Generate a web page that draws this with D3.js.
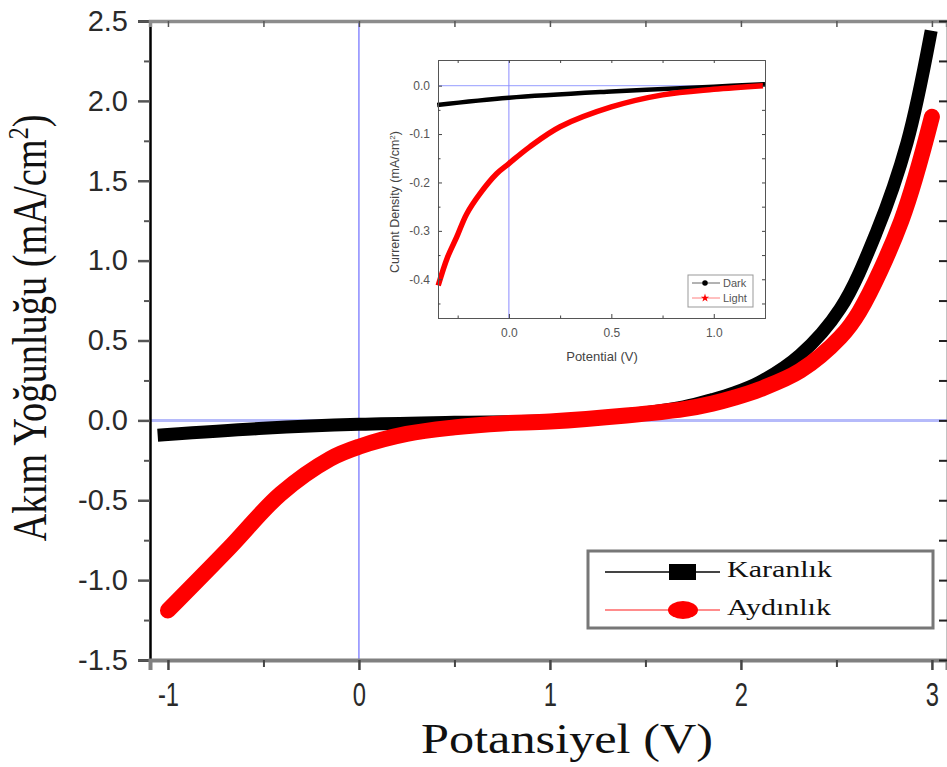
<!DOCTYPE html>
<html>
<head>
<meta charset="utf-8">
<script src="https://cdn.jsdelivr.net/npm/d3@7"></script>
<style>
  body { margin: 0; background: #fff; }
  svg { display: block; }
</style>
</head>
<body>
<div id="chart"></div>
<script>
// main plot: Karanlık (dark) and Aydınlık (light) J-V curves
let darkV = [-1.02, -0.5, 0, 0.5, 1.0, 1.4, 1.7, 1.85, 1.96, 2.10, 2.31, 2.52, 2.71, 2.87, 2.99];
let darkJ = [-0.09, -0.05, -0.025, -0.012, -0.002, 0.035, 0.085, 0.13, 0.17, 0.24, 0.41, 0.70, 1.18, 1.74, 2.40];
let lightV = [-1.0, -0.68, -0.41, -0.15, 0, 0.25, 0.5, 0.75, 1.0, 1.4, 1.7, 1.85, 1.96, 2.10, 2.31, 2.52, 2.62, 2.84, 3.0];
let lightJ = [-1.19, -0.80, -0.46, -0.24, -0.165, -0.085, -0.044, -0.019, -0.0075, 0.03, 0.07, 0.105, 0.14, 0.195, 0.31, 0.52, 0.68, 1.25, 1.90];

// inset: zoom around the origin
let insetDarkV = [-0.35, 0, 0.5, 1.0, 1.25];
let insetDarkJ = [-0.04, -0.025, -0.012, -0.002, 0.003];
let insetLightV = [-0.345, -0.3, -0.255, -0.206, -0.141, -0.06, 0, 0.1, 0.25, 0.5, 0.75, 1.0, 1.24];
let insetLightJ = [-0.413, -0.355, -0.313, -0.265, -0.223, -0.182, -0.161, -0.127, -0.085, -0.044, -0.019, -0.0075, 0.0];

let xTicks = [-1, 0, 1, 2, 3];
let yTicks = [-1.5, -1.0, -0.5, 0.0, 0.5, 1.0, 1.5, 2.0, 2.5];
let insetXTicks = [0, 0.5, 1.0];
let insetYTicks = [0, -0.1, -0.2, -0.3, -0.4];
let seriesNames = ['Karanlık', 'Aydınlık'];
let insetNames = ['Dark', 'Light'];

let width = 947, height = 767;
let plot = { left: 150, right: 947, top: 21, bottom: 660 };
let inset = { left: 438, right: 765, top: 60, bottom: 318 };

const svg = d3.select('#chart').append('svg')
  .attr('width', width)
  .attr('height', height)
  .attr('viewBox', [0, 0, width, height]);

svg.append('rect').attr('width', width).attr('height', height).attr('fill', '#fff');

let x = d3.scaleLinear().domain([-1.094, 3.079]).range([plot.left, plot.right]);
let y = d3.scaleLinear().domain([-1.5, 2.5]).range([plot.bottom, plot.top]);

// plain hyphen instead of d3's unicode minus
let fmt1 = (d) => d.toFixed(1);
let fmt0 = (d) => d.toFixed(0);

function zip(xs, ys) {
  return xs.map((v, i) => ({ v: v, j: ys[i] }));
}

function minorTicks(scale, step) {
  let [a, b] = scale.domain();
  let out = [];
  for (let t = Math.ceil(a / step) * step; t <= b + 1e-9; t += step) out.push(+t.toFixed(4));
  return out;
}

// reference lines
svg.append('line')
  .attr('x1', plot.left).attr('x2', plot.right)
  .attr('y1', y(0)).attr('y2', y(0))
  .attr('stroke', 'rgba(120,130,245,0.55)').attr('stroke-width', 3);
svg.append('line')
  .attr('x1', x(0)).attr('x2', x(0))
  .attr('y1', plot.top).attr('y2', plot.bottom)
  .attr('stroke', '#5050ff').attr('stroke-width', 1);

// curves
let line = d3.line()
  .x((d) => x(d.v))
  .y((d) => y(d.j))
  .curve(d3.curveCatmullRom.alpha(0.5));

svg.append('path')
  .attr('d', line(zip(darkV, darkJ)))
  .attr('fill', 'none')
  .attr('stroke', '#000')
  .attr('stroke-width', 13)
  .attr('stroke-linecap', 'square')
  .attr('stroke-linejoin', 'round');

svg.append('path')
  .attr('d', line(zip(lightV, lightJ)))
  .attr('fill', 'none')
  .attr('stroke', '#ff0000')
  .attr('stroke-width', 16)
  .attr('stroke-linecap', 'round')
  .attr('stroke-linejoin', 'round');

// axes
let tickFont = '"Liberation Sans", Arial, sans-serif';

let axisL = svg.append('g')
  .attr('transform', `translate(${plot.left},0)`)
  .call(d3.axisLeft(y).tickValues(yTicks).tickSize(12).tickPadding(10).tickFormat(fmt1));
axisL.select('.domain').attr('stroke', '#000').attr('stroke-width', 2.5);
axisL.selectAll('.tick line').attr('stroke', '#555').attr('stroke-width', 2.5);
axisL.selectAll('.tick text')
  .attr('font-family', tickFont).attr('font-size', 29).attr('fill', '#2a2a2a');

svg.append('g')
  .attr('transform', `translate(${plot.left},0)`)
  .call(d3.axisLeft(y).tickValues(minorTicks(y, 0.25).filter((t) => !yTicks.includes(t))).tickSize(6).tickFormat(''))
  .call((g) => g.select('.domain').remove())
  .selectAll('.tick line').attr('stroke', '#555').attr('stroke-width', 2);

let axisB = svg.append('g')
  .attr('transform', `translate(0,${plot.bottom})`)
  .call(d3.axisBottom(x).tickValues(xTicks).tickSize(10).tickPadding(13).tickFormat(fmt0));
axisB.select('.domain').attr('stroke', '#808080').attr('stroke-width', 4);
axisB.selectAll('.tick line').attr('stroke', '#444').attr('stroke-width', 2.5);
axisB.selectAll('.tick text')
  .attr('font-family', tickFont)
  .attr('font-size', 33).attr('fill', '#2a2a2a')
  .attr('transform', 'scale(0.72,1)');

svg.append('g')
  .attr('transform', `translate(0,${plot.bottom})`)
  .call(d3.axisBottom(x).tickValues([-0.5, 0.5, 1.5, 2.5]).tickSize(7).tickFormat(''))
  .call((g) => g.select('.domain').remove())
  .selectAll('.tick line').attr('stroke', '#444').attr('stroke-width', 2);

let axisT = svg.append('g')
  .attr('transform', `translate(0,${plot.top})`)
  .call(d3.axisBottom(x).tickValues([-1, -0.5, 0, 0.5, 1, 1.5, 2, 2.5, 3]).tickSize(6).tickFormat(''));
axisT.select('.domain').attr('stroke', '#8c8c8c').attr('stroke-width', 3.5);
axisT.selectAll('.tick line').attr('stroke', '#555').attr('stroke-width', 1.5);

let axisR = svg.append('g')
  .attr('transform', `translate(${plot.right},0)`)
  .call(d3.axisLeft(y).tickValues(minorTicks(y, 0.25)).tickSize(8).tickFormat(''));
axisR.select('.domain').attr('stroke', '#888').attr('stroke-width', 2);
axisR.selectAll('.tick line').attr('stroke', '#222').attr('stroke-width', 2);

// axis titles
let serif = '"Liberation Serif", "Times New Roman", serif';
svg.append('text')
  .attr('transform', 'translate(567,753) scale(1.17,1)')
  .attr('text-anchor', 'middle')
  .attr('font-family', serif).attr('font-size', 43).attr('fill', '#111')
  .text('Potansiyel (V)');

let yTitle = svg.append('text')
  .attr('transform', 'translate(46,328) rotate(-90) scale(0.8,1)')
  .attr('text-anchor', 'middle')
  .attr('font-family', serif).attr('font-size', 48).attr('fill', '#111');
yTitle.append('tspan').text('Akım Yoğunluğu (mA/cm');
yTitle.append('tspan').attr('dy', -18).attr('font-size', 30).text('2');
yTitle.append('tspan').attr('dy', 18).text(')');

// legend
let legend = svg.append('g').attr('class', 'legend');
legend.append('rect')
  .attr('x', 588).attr('y', 551).attr('width', 345).attr('height', 77)
  .attr('fill', '#fff').attr('stroke', '#777').attr('stroke-width', 3);

let legendRows = [
  { name: seriesNames[0], yPos: 572, line: '#444', color: '#000', shape: 'square' },
  { name: seriesNames[1], yPos: 610, line: '#ff8c8c', color: '#ff0000', shape: 'circle' }
];
legendRows.forEach((r) => {
  legend.append('line')
    .attr('x1', 605).attr('x2', 720).attr('y1', r.yPos).attr('y2', r.yPos)
    .attr('stroke', r.line).attr('stroke-width', 1.8);
  if (r.shape === 'square') {
    legend.append('rect')
      .attr('x', 669).attr('y', r.yPos - 8).attr('width', 27).attr('height', 16)
      .attr('fill', r.color);
  } else {
    legend.append('ellipse')
      .attr('cx', 683).attr('cy', r.yPos).attr('rx', 15).attr('ry', 9)
      .attr('fill', r.color);
  }
  legend.append('text')
    .attr('transform', `translate(727,${r.yPos + 5}) scale(1.25,1)`)
    .attr('font-family', serif).attr('font-size', 24).attr('fill', '#111')
    .text(r.name);
});

// inset chart
let xi = d3.scaleLinear().domain([-0.346, 1.25]).range([inset.left, inset.right]);
let yi = d3.scaleLinear().domain([-0.48, 0.053]).range([inset.bottom, inset.top]);

let ins = svg.append('g').attr('class', 'inset');
ins.append('rect')
  .attr('x', inset.left).attr('y', inset.top)
  .attr('width', inset.right - inset.left).attr('height', inset.bottom - inset.top)
  .attr('fill', '#fff');

ins.append('line')
  .attr('x1', inset.left).attr('x2', inset.right).attr('y1', yi(0)).attr('y2', yi(0))
  .attr('stroke', '#aab0ff').attr('stroke-width', 1.2);
ins.append('line')
  .attr('x1', xi(0)).attr('x2', xi(0)).attr('y1', inset.top).attr('y2', inset.bottom)
  .attr('stroke', '#8a8aff').attr('stroke-width', 1);

let lineI = d3.line()
  .x((d) => xi(d.v))
  .y((d) => yi(d.j))
  .curve(d3.curveCatmullRom.alpha(0.5));

ins.append('path')
  .attr('d', lineI(zip(insetDarkV, insetDarkJ)))
  .attr('fill', 'none').attr('stroke', '#000').attr('stroke-width', 4.5);
ins.append('path')
  .attr('d', lineI(zip(insetLightV, insetLightJ)))
  .attr('fill', 'none').attr('stroke', '#ff0000').attr('stroke-width', 5.5);

let smallFont = '"Liberation Sans", Arial, sans-serif';
let insetAxis = (g) => {
  g.select('.domain').attr('stroke', '#555').attr('stroke-width', 1);
  g.selectAll('.tick line').attr('stroke', '#444');
  g.selectAll('.tick text').attr('font-family', smallFont).attr('font-size', 12).attr('fill', '#555');
};

ins.append('g')
  .attr('transform', `translate(${inset.left},0)`)
  .call(d3.axisLeft(yi).tickValues(insetYTicks).tickSize(-4).tickPadding(8).tickFormat(fmt1))
  .call(insetAxis);
ins.append('g')
  .attr('transform', `translate(${inset.left},0)`)
  .call(d3.axisLeft(yi).tickValues([-0.05, -0.15, -0.25, -0.35, -0.45]).tickSize(-2.5).tickFormat(''))
  .call(insetAxis);
ins.append('g')
  .attr('transform', `translate(${inset.right},0)`)
  .call(d3.axisRight(yi).tickValues([0, -0.05, -0.1, -0.15, -0.2, -0.25, -0.3, -0.35, -0.4, -0.45]).tickSize(-3).tickFormat(''))
  .call(insetAxis);
ins.append('g')
  .attr('transform', `translate(0,${inset.bottom})`)
  .call(d3.axisBottom(xi).tickValues(insetXTicks).tickSize(-4).tickPadding(10).tickFormat(fmt1))
  .call(insetAxis);
ins.append('g')
  .attr('transform', `translate(0,${inset.bottom})`)
  .call(d3.axisBottom(xi).tickValues([-0.25, 0.25, 0.75]).tickSize(-2.5).tickFormat(''))
  .call(insetAxis);
ins.append('g')
  .attr('transform', `translate(0,${inset.top})`)
  .call(d3.axisTop(xi).tickValues([-0.25, 0, 0.25, 0.5, 0.75, 1.0]).tickSize(-3).tickFormat(''))
  .call(insetAxis);

ins.append('text')
  .attr('x', 602).attr('y', 361)
  .attr('text-anchor', 'middle')
  .attr('font-family', smallFont).attr('font-size', 13).attr('fill', '#444')
  .text('Potential (V)');

let yiTitle = ins.append('text')
  .attr('transform', 'translate(399,202) rotate(-90)')
  .attr('text-anchor', 'middle')
  .attr('font-family', smallFont).attr('font-size', 12.5).attr('fill', '#444');
yiTitle.append('tspan').text('Current Density (mA/cm');
yiTitle.append('tspan').attr('dy', -4).attr('font-size', 8).text('2');
yiTitle.append('tspan').attr('dy', 4).text(')');

// inset legend
let il = ins.append('g');
il.append('rect')
  .attr('x', 688).attr('y', 275).attr('width', 65).attr('height', 32)
  .attr('fill', '#fff').attr('stroke', '#999').attr('stroke-width', 1);
[
  { name: insetNames[0], yPos: 283, color: '#000', line: '#666' },
  { name: insetNames[1], yPos: 298, color: '#ff0000', line: '#ff8080' }
].forEach((r, i) => {
  il.append('line')
    .attr('x1', 692).attr('x2', 720).attr('y1', r.yPos).attr('y2', r.yPos)
    .attr('stroke', r.line).attr('stroke-width', 1);
  il.append('path')
    .attr('transform', `translate(705,${r.yPos})`)
    .attr('d', d3.symbol().type(i === 0 ? d3.symbolCircle : d3.symbolStar).size(i === 0 ? 24 : 22)())
    .attr('fill', r.color);
  il.append('text')
    .attr('x', 723).attr('y', r.yPos + 4)
    .attr('font-family', smallFont).attr('font-size', 11).attr('fill', '#555')
    .text(r.name);
});
</script>
</body>
</html>
